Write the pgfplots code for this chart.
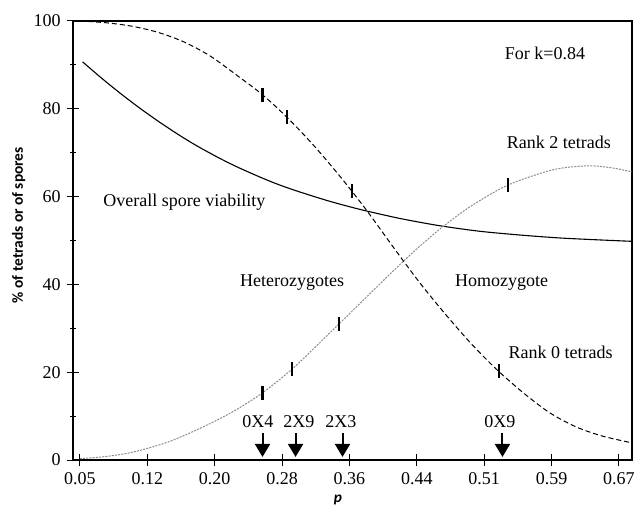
\documentclass[border=0pt]{standalone}
\usepackage{fontspec}
\setmainfont{Liberation Serif}
\newfontfamily\sansb{Carlito}
\usepackage{pgfplots}
\pgfplotsset{compat=1.18}
\usetikzlibrary{arrows.meta}
\begin{document}
\fontsize{9}{11}\selectfont
\begin{tikzpicture}
\begin{axis}[
 scale only axis, width=279.5pt, height=219.5pt,
 xmin=0.042, xmax=0.685, ymin=0, ymax=100,
 xtick={0.05,0.1275,0.205,0.2825,0.36,0.4375,0.515,0.5925,0.67},
 xticklabels={0.05,0.12,0.20,0.28,0.36,0.44,0.51,0.59,0.67},
 ytick={0,20,40,60,80,100}, minor ytick={10,30,50,70,90},
 axis line style={line width=0.6pt},
 tick align=center, xtick pos=bottom, ytick pos=left,
 major tick length=6pt, minor tick length=3pt,
 tick style={black, line width=0.5pt},
 /pgf/number format/assume math mode=true,
 ticklabel style={font=\fontsize{9}{10}\selectfont},
 xlabel={\sansb\bfseries\itshape p},
 ylabel={\sansb\bfseries \% of tetrads or of spores},
 label style={font=\fontsize{7.7}{9}\selectfont},
 xlabel style={at={(axis description cs:0.474,-0.091)}, anchor=center},
 ylabel style={at={(axis description cs:-0.097,0.535)}, anchor=center},
]
% Overall spore viability
\addplot[black, line width=0.55pt, smooth, tension=0.5] coordinates {
(0.053,90.7) (0.075,86.96) (0.098,83.28) (0.12,79.98) (0.142,76.9) (0.165,73.9)
(0.185,71.5) (0.21,68.8) (0.231,66.74) (0.26,64.2) (0.283,62.4) (0.31,60.6)
(0.337,58.95) (0.36,57.7) (0.381,56.66) (0.42,54.94) (0.464,53.36) (0.51,52.1)
(0.556,51.25) (0.6,50.6) (0.64,50.2) (0.686,49.8)};
% Rank 0 tetrads
\addplot[black, line width=0.5pt, dash pattern=on 2.5pt off 1.5pt, smooth, tension=0.5] coordinates {
(0.05,100) (0.08,99.6) (0.11,98.8) (0.14,97.4) (0.17,95.2) (0.20,92.0)
(0.23,87.7) (0.26,83.2) (0.29,77.7) (0.32,71.4) (0.35,64.4) (0.38,56.8)
(0.41,48.6) (0.44,40.6) (0.47,33.3) (0.50,26.5) (0.53,20.5) (0.56,15.3)
(0.59,10.8) (0.62,7.6) (0.65,5.5) (0.685,3.9)};
% Rank 2 tetrads
\addplot[black!45, line width=0.5pt, dash pattern=on 1pt off 0.6pt, smooth, tension=0.5] coordinates {
(0.05,0.3) (0.08,0.8) (0.111,1.8) (0.15,4.0) (0.188,7.2) (0.225,10.9)
(0.26,15.3) (0.294,20.7) (0.32,25.6) (0.348,31.0) (0.38,37.2) (0.41,43.0)
(0.437,48.0) (0.464,52.6) (0.498,57.6) (0.542,62.6) (0.594,66.1) (0.633,67)
(0.66,66.6) (0.686,65.6)};
% tick marks on curves
\addplot[black, only marks, mark=|, mark size=3.5pt, mark options={line width=1.1pt}] coordinates {
(0.260,83.2) (0.288,78.1) (0.363,61.2) (0.532,20.2)
(0.260,15.3) (0.294,20.7) (0.348,31.0) (0.542,62.6)};
% arrows
\addplot[black, line width=1pt, -{Triangle[width=7.5pt,length=6.5pt]}, quiver={u=0,v=-5.5}] coordinates {
(0.260,6.2) (0.298,6.2) (0.352,6.2) (0.536,6.2)};
\node at (axis cs:0.2547,8.8) {0X4};
\node at (axis cs:0.3018,8.8) {2X9};
\node at (axis cs:0.350,8.8) {2X3};
\node at (axis cs:0.533,8.8) {0X9};
\node at (axis cs:0.585,92.6) {For k=0.84};
\node at (axis cs:0.601,72.4) {Rank 2 tetrads};
\node at (axis cs:0.170,58.8) {Overall spore viability};
\node at (axis cs:0.294,40.5) {Heterozygotes};
\node at (axis cs:0.535,40.5) {Homozygote};
\node at (axis cs:0.603,24.6) {Rank 0 tetrads};
\end{axis}
\path (current axis.south west) ++(-36.5pt,-23pt);
\path (current axis.north east) ++(4.5pt,10.5pt);
\end{tikzpicture}
\end{document}
